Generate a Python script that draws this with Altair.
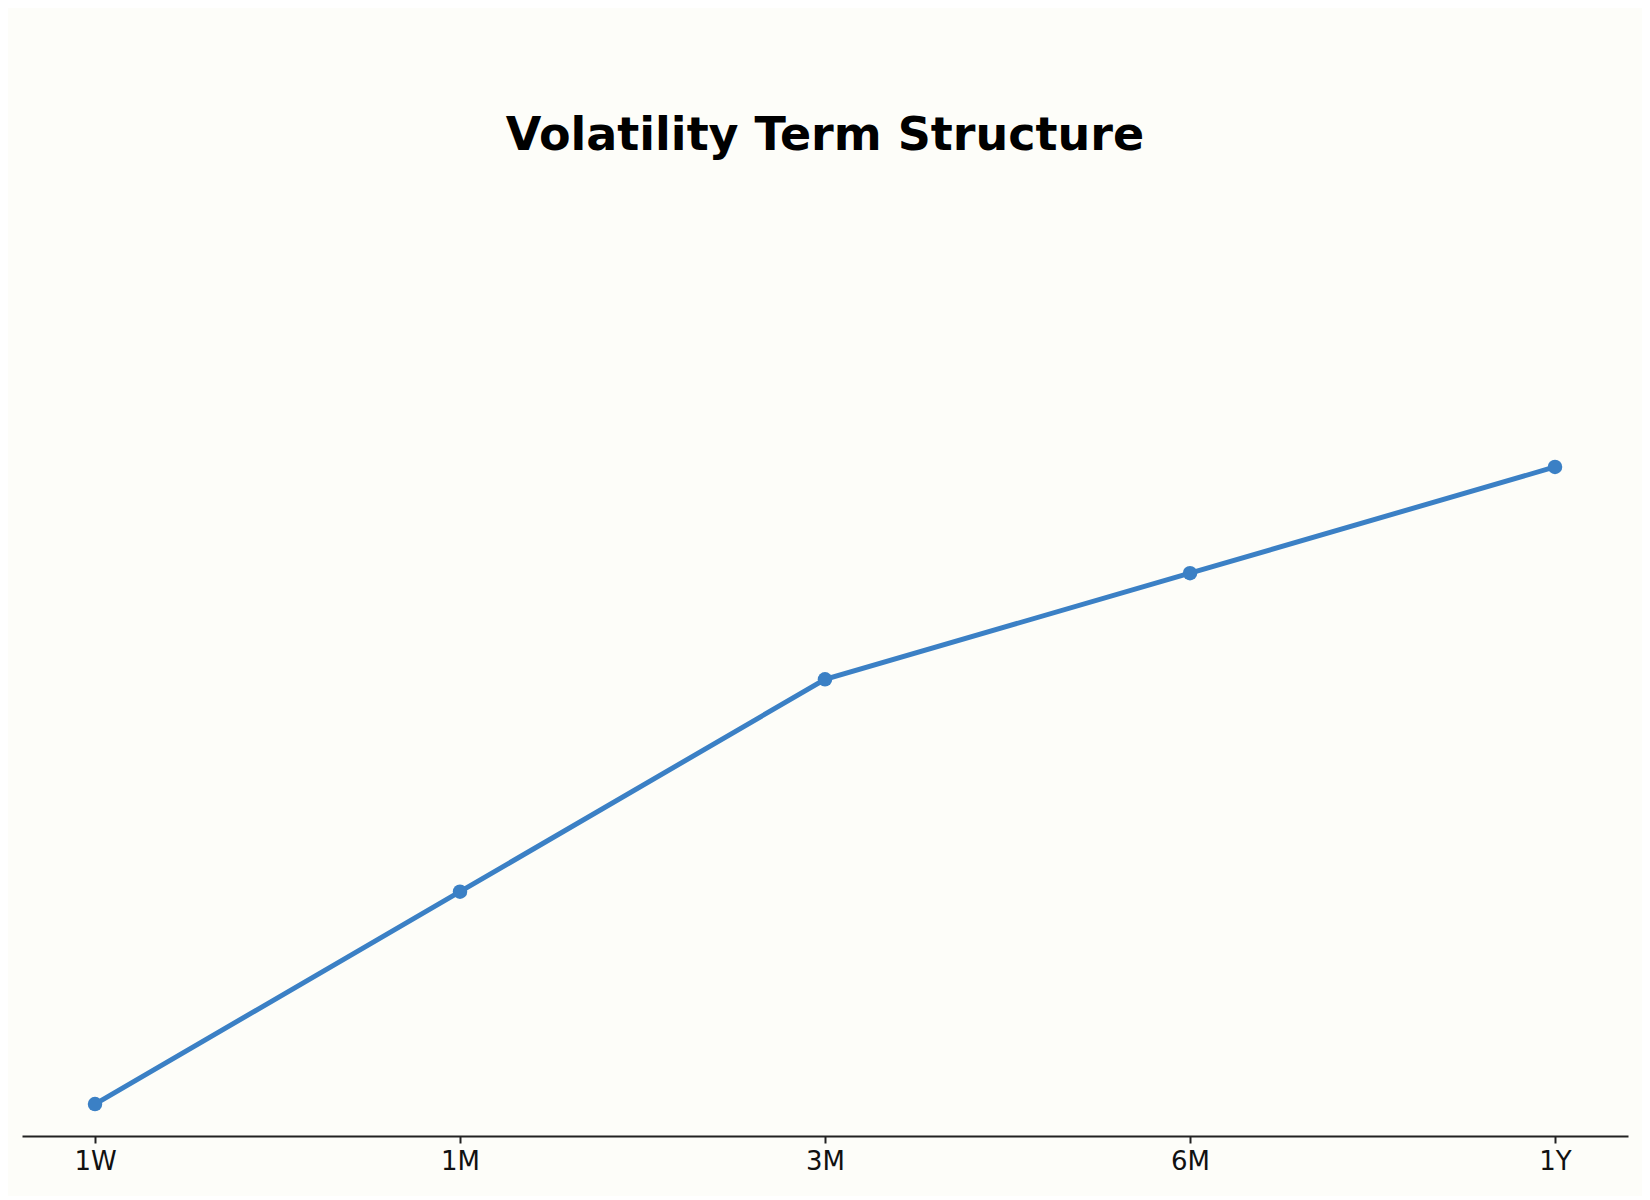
import altair as alt
import pandas as pd

tenors = ["1W", "1M", "3M", "6M", "1Y"]
vols = [18.0, 20.0, 22.0, 23.0, 24.0]

df = pd.DataFrame({"tenor": tenors, "vol": vols})

BG = "#fdfdf9"
BLUE = "#3b80c5"

x = alt.X("tenor:N", sort=tenors, title=None,
          scale=alt.Scale(type="point", padding=0.2),
          axis=alt.Axis(labelAngle=0, labelFontSize=26, labelColor="#111111",
                        labelFont="DejaVu Sans", labelPadding=5,
                        tickSize=7, tickWidth=2, tickColor="#222222",
                        domainColor="#222222", domainWidth=2, grid=False))
y = alt.Y("vol:Q", axis=None, scale=alt.Scale(domain=[17.699, 26.891], zero=False, nice=False))

line = alt.Chart(df).mark_line(color=BLUE, strokeWidth=5).encode(x=x, y=y)
pts = alt.Chart(df).mark_point(filled=True, color=BLUE, size=210, opacity=1).encode(x=x, y=y)

chart = alt.layer(line, pts).properties(
    width=1606, height=976,
    title=alt.TitleParams("Volatility Term Structure", fontSize=46, fontWeight="bold",
                          font="DejaVu Sans", color="#000000", anchor="middle", offset=0),
    background=BG,
    padding={"left": 14, "top": 152, "right": 14, "bottom": 60},
    autosize=alt.AutoSizeParams(type="none"),
).configure_view(stroke=None)

chart.save("out.html", embed_options={"renderer": "svg", "actions": False})
